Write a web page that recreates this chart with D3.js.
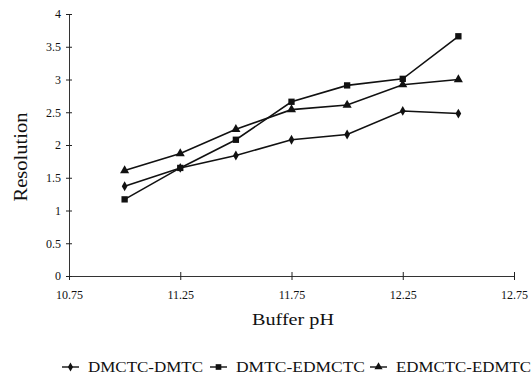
<!DOCTYPE html>
<html>
<head>
<meta charset="utf-8">
<script src="https://cdn.jsdelivr.net/npm/d3@7"></script>
<style>
  body { margin: 0; background: #fff; }
</style>
</head>
<body>
<div id="chart"></div>
<script>
// buffer pH values where resolution was measured
const phValues = [11, 11.25, 11.5, 11.75, 12, 12.25, 12.5];
const dmctcDmtc = [1.37, 1.65, 1.84, 2.08, 2.16, 2.52, 2.48];
const dmtcEdmctc = [1.17, 1.65, 2.08, 2.66, 2.91, 3.01, 3.66];
const edmctcEdmtc = [1.61, 1.87, 2.24, 2.54, 2.61, 2.92, 3.0];
const seriesNames = ["DMCTC-DMTC", "DMTC-EDMCTC", "EDMCTC-EDMTC"];
const xTicks = [10.75, 11.25, 11.75, 12.25, 12.75];
const yTicks = [0, 0.5, 1, 1.5, 2, 2.5, 3, 3.5, 4];

const serif = "'Liberation Serif', 'Times New Roman', Times, serif";
const width = 531,
  height = 377;

const svg = d3.select("#chart").append("svg").attr("width", width).attr("height", height)
  .style("font-family", serif);

const x = d3.scaleLinear().domain([10.75, 12.75]).range([69, 514]);
const y = d3.scaleLinear().domain([0, 4]).range([276, 14]);

// crossing ticks like the original figure
const xAxis = svg.append("g")
  .attr("transform", `translate(0,${y(0)})`)
  .call(d3.axisBottom(x).tickValues(xTicks).tickSize(4).tickSizeOuter(0).tickFormat(d3.format(".2f")));
xAxis.selectAll(".tick line").attr("y1", -4).attr("y2", 4);
xAxis.selectAll(".tick text").attr("y", 14);

const yAxis = svg.append("g")
  .attr("transform", `translate(${x(10.75)},0)`)
  .call(d3.axisLeft(y).tickValues(yTicks).tickSize(3).tickSizeOuter(0).tickFormat(d => d));
yAxis.selectAll(".tick line").attr("x1", -3).attr("x2", 3);
yAxis.selectAll(".tick text").attr("x", -8);

svg.selectAll("g").attr("font-family", null);
svg.selectAll(".domain").attr("stroke", "#333").attr("stroke-width", 1);
svg.selectAll(".tick line").attr("stroke", "#222");
svg.selectAll(".tick text").style("font-family", serif).style("font-size", "12px").style("fill", "#111");

// axis titles
svg.append("text")
  .attr("x", 252).attr("y", 325)
  .attr("textLength", 82).attr("lengthAdjust", "spacingAndGlyphs")
  .style("font-family", serif).style("font-size", "17px").style("fill", "#111")
  .text("Buffer pH");

svg.append("text")
  .attr("transform", "translate(27,157) rotate(-90)")
  .attr("text-anchor", "middle")
  .attr("textLength", 89).attr("lengthAdjust", "spacingAndGlyphs")
  .style("font-family", serif).style("font-size", "18px").style("fill", "#111")
  .text("Resolution");

const symbols = [d3.symbolDiamond, d3.symbolSquare, d3.symbolTriangle];
const symbolSizes = [28, 40, 36];
const allSeries = [dmctcDmtc, dmtcEdmctc, edmctcEdmtc];

const line = d3.line().x((d, i) => x(phValues[i])).y(d => y(d));

allSeries.forEach((vals, s) => {
  svg.append("path")
    .attr("d", line(vals))
    .attr("fill", "none")
    .attr("stroke", "#111")
    .attr("stroke-width", 1.6);

  svg.selectAll(".pt" + s)
    .data(vals)
    .join("path")
    .attr("transform", (d, i) => `translate(${x(phValues[i])},${y(d)})`)
    .attr("d", d3.symbol().type(symbols[s]).size(symbolSizes[s]))
    .attr("fill", "#111");
});

// legend
const legendX = [62, 210, 370];
const legendW = [115, 129, 135];
const legend = svg.append("g");
seriesNames.forEach((name, s) => {
  const lx = legendX[s];
  legend.append("line")
    .attr("x1", lx).attr("x2", lx + 17)
    .attr("y1", 367).attr("y2", 367)
    .attr("stroke", "#111").attr("stroke-width", 1.4);
  legend.append("path")
    .attr("transform", `translate(${lx + 8.5},367)`)
    .attr("d", d3.symbol().type(symbols[s]).size(symbolSizes[s] * 0.8))
    .attr("fill", "#111");
  legend.append("text")
    .attr("x", lx + 26).attr("y", 372)
    .attr("textLength", legendW[s]).attr("lengthAdjust", "spacingAndGlyphs")
    .style("font-family", serif).style("font-size", "15px").style("fill", "#111")
    .text(name);
});
</script>
</body>
</html>
